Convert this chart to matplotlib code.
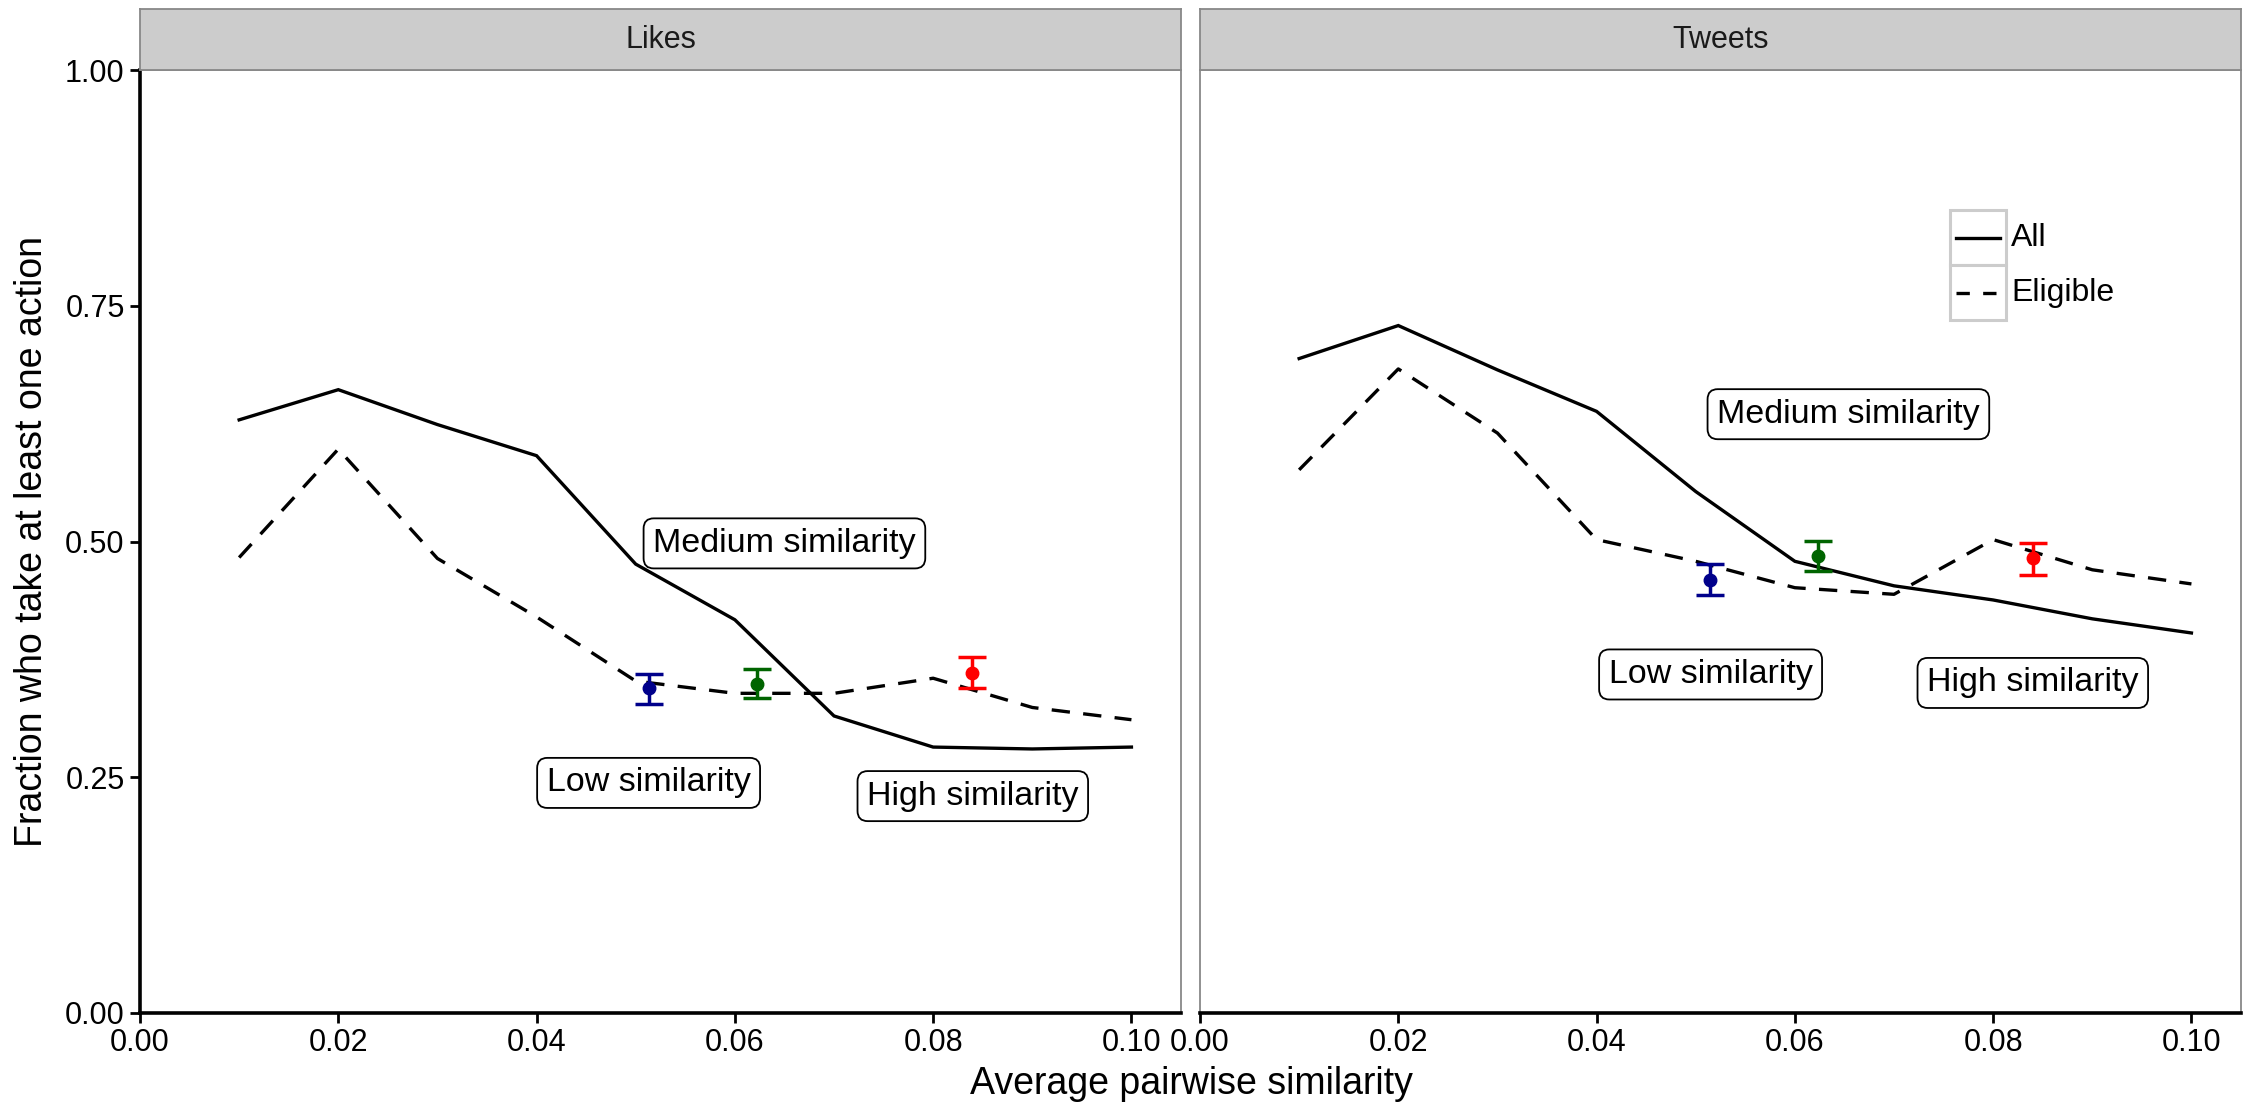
import matplotlib
matplotlib.use("Agg")
import matplotlib.pyplot as plt
from matplotlib.patches import Rectangle
from matplotlib.lines import Line2D

plt.rcParams['font.family'] = ['Liberation Sans', 'DejaVu Sans']

panels = ["Likes", "Tweets"]
x_vals = [0.01, 0.02, 0.03, 0.04, 0.05, 0.06, 0.07, 0.08, 0.09, 0.10]

likes_all = [0.629, 0.661, 0.624, 0.591, 0.476, 0.417, 0.315, 0.282, 0.280, 0.282]
likes_eligible = [0.483, 0.598, 0.482, 0.420, 0.352, 0.339, 0.339, 0.355, 0.324, 0.311]
tweets_all = [0.694, 0.729, 0.682, 0.638, 0.553, 0.479, 0.453, 0.438, 0.418, 0.403]
tweets_eligible = [0.576, 0.683, 0.615, 0.502, 0.479, 0.451, 0.444, 0.502, 0.470, 0.455]

groups = ["Low similarity", "Medium similarity", "High similarity"]
group_colors = ["#00008B", "#006400", "#FF0000"]
likes_pt_x = [0.0513, 0.0622, 0.0839]
likes_pt_y = [0.345, 0.349, 0.361]
likes_pt_lo = [0.328, 0.334, 0.345]
likes_pt_hi = [0.360, 0.365, 0.378]
tweets_pt_x = [0.0514, 0.0623, 0.0840]
tweets_pt_y = [0.459, 0.485, 0.482]
tweets_pt_lo = [0.443, 0.469, 0.464]
tweets_pt_hi = [0.476, 0.501, 0.498]

likes_lab_x = [0.0513, 0.0650, 0.0840]
likes_lab_y = [0.244, 0.498, 0.230]
tweets_lab_x = [0.0515, 0.0654, 0.0840]
tweets_lab_y = [0.359, 0.635, 0.350]

x_ticks = [0.00, 0.02, 0.04, 0.06, 0.08, 0.10]
x_ticklabels = ["0.00", "0.02", "0.04", "0.06", "0.08", "0.10"]
y_ticks = [0.00, 0.25, 0.50, 0.75, 1.00]
y_ticklabels = ["0.00", "0.25", "0.50", "0.75", "1.00"]

series = {
    "Likes": (likes_all, likes_eligible, likes_pt_x, likes_pt_y, likes_pt_lo, likes_pt_hi, likes_lab_x, likes_lab_y),
    "Tweets": (tweets_all, tweets_eligible, tweets_pt_x, tweets_pt_y, tweets_pt_lo, tweets_pt_hi, tweets_lab_x, tweets_lab_y),
}

W, H = 2245, 1103
fig = plt.figure(figsize=(W / 100, H / 100), dpi=100)

ax_bottom = 1 - 1013 / H
ax_top = 1 - 70 / H
ax_h = ax_top - ax_bottom
strip_h = (70 - 9) / H
lefts = [140 / W, 1200 / W]
ax_w = 1041 / W

TICK_FS = 22
LAB_FS = 24.5
LEG_FS = 23
TITLE_FS = 27

dash = (0, (5.5, 4))
for i, name in enumerate(panels):
    all_v, elig_v, px, py, plo, phi, lx, ly = series[name]
    ax = fig.add_axes([lefts[i], ax_bottom, ax_w, ax_h])
    ax.plot(x_vals, all_v, color="black", lw=2.4, solid_joinstyle="miter")
    ax.plot(x_vals, elig_v, color="black", lw=2.4, linestyle=dash)
    for j in range(len(groups)):
        ax.errorbar([px[j]], [py[j]], yerr=[[py[j] - plo[j]], [phi[j] - py[j]]],
                    fmt="o", color=group_colors[j], ms=9, capsize=10, capthick=2.5,
                    elinewidth=2.5, zorder=5)
        ax.text(lx[j], ly[j], groups[j], ha="center", va="center", fontsize=LAB_FS,
                bbox=dict(boxstyle="round,pad=0.28,rounding_size=0.3", fc="white",
                          ec="black", lw=1.3), zorder=6)
    ax.set_xlim(0, 0.105)
    ax.set_ylim(0, 1.0)
    ax.set_xticks(x_ticks)
    ax.set_xticklabels(x_ticklabels, fontsize=TICK_FS)
    ax.set_yticks(y_ticks)
    for s in ["top", "right"]:
        ax.spines[s].set_color("#888888")
        ax.spines[s].set_linewidth(1.3)
    ax.spines["bottom"].set_color("black")
    ax.spines["bottom"].set_linewidth(2.6)
    ax.tick_params(axis="x", length=7, width=2, color="black", pad=4)
    if i == 0:
        ax.spines["left"].set_color("black")
        ax.spines["left"].set_linewidth(2.6)
        ax.set_yticklabels(y_ticklabels, fontsize=TICK_FS)
        ax.tick_params(axis="y", length=7, width=2, color="black", pad=4)
    else:
        ax.spines["left"].set_color("#888888")
        ax.spines["left"].set_linewidth(1.3)
        ax.tick_params(axis="y", length=0, labelleft=False)
        # legend
        kx0, kx1 = 0.7205, 0.7743
        ky = [0.8515, 0.7932, 0.7349]
        for k in range(2):
            ax.add_patch(Rectangle((kx0, ky[k + 1]), kx1 - kx0, ky[k] - ky[k + 1],
                                   transform=ax.transAxes, fc="white", ec="#CCCCCC",
                                   lw=2.2, zorder=7))
        ymid0 = (ky[0] + ky[1]) / 2
        ymid1 = (ky[1] + ky[2]) / 2
        ax.add_line(Line2D([kx0 + 0.006, kx1 - 0.006], [ymid0, ymid0], transform=ax.transAxes,
                           color="black", lw=2.4, zorder=8))
        ax.add_line(Line2D([kx0 + 0.006, kx1 - 0.006], [ymid1, ymid1], transform=ax.transAxes,
                           color="black", lw=2.4, linestyle=(0, (4, 4)), zorder=8))
        ax.text(0.779, ymid0, "All", transform=ax.transAxes, ha="left", va="center", fontsize=LEG_FS)
        ax.text(0.779, ymid1, "Eligible", transform=ax.transAxes, ha="left", va="center", fontsize=LEG_FS)
    # strip
    sax = fig.add_axes([lefts[i], ax_top, ax_w, strip_h])
    sax.set_facecolor("#CCCCCC")
    sax.set_xticks([])
    sax.set_yticks([])
    for s in sax.spines.values():
        s.set_color("#888888")
        s.set_linewidth(1.3)
    sax.text(0.5, 0.5, name, ha="center", va="center", fontsize=TICK_FS, color="#1A1A1A",
             transform=sax.transAxes)

fig.text(32 / W, (ax_bottom + ax_top) / 2, "Fraction who take at least one action",
         rotation=90, ha="center", va="center", fontsize=TITLE_FS)
fig.text(1191 / W, 1 - 1084 / H, "Average pairwise similarity", ha="center", va="center",
         fontsize=TITLE_FS)

fig.savefig("out.png", dpi=100, facecolor="white")
